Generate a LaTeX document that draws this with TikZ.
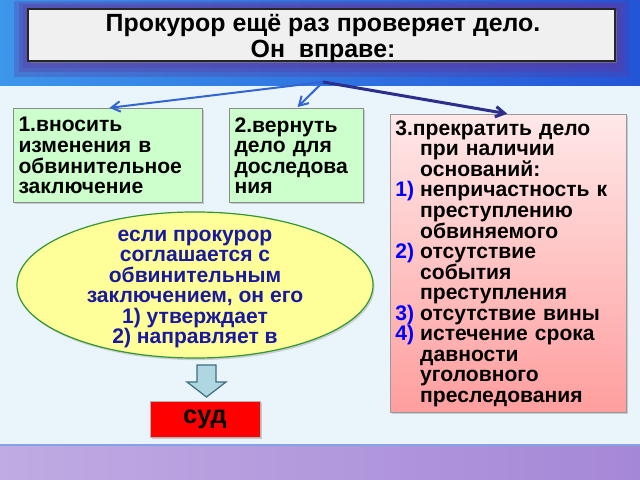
\documentclass[tikz,border=0pt]{standalone}
\usepackage{fontspec}
\setmainfont{Liberation Sans}
\usetikzlibrary{arrows.meta,shapes.geometric,shadows}
\definecolor{bandblue}{RGB}{35,85,215}
\definecolor{bandcyan}{RGB}{60,150,235}
\definecolor{glowviolet}{RGB}{95,55,160}
\definecolor{paleback}{RGB}{234,244,251}
\definecolor{lilac}{RGB}{165,135,215}
\definecolor{boxgreen}{RGB}{204,255,204}
\definecolor{pinktop}{RGB}{255,232,232}
\definecolor{pinkbottom}{RGB}{255,158,158}
\definecolor{ovalyellow}{RGB}{255,255,153}
\definecolor{ovaltext}{RGB}{25,25,160}
\definecolor{arrowblue}{RGB}{50,100,210}
\definecolor{arrownavy}{RGB}{45,45,140}
\definecolor{blockarrow}{RGB}{175,215,225}
\definecolor{blockedge}{RGB}{60,110,130}

\tikzset{
  boxtext/.style={font=\bfseries\fontsize{15}{14.6}\selectfont},
  greenbox/.style={boxtext, draw=black!45, line width=0.3mm, fill=boxgreen,
    anchor=north west, align=left, inner xsep=0.12cm,
    drop shadow={shadow xshift=1.2pt, shadow yshift=-1.2pt, opacity=0.35}},
  forkarrow/.style={line width=0.5mm, color=arrowblue, -{Straight Barb[length=2.2mm,width=2.6mm]}},
}

\begin{document}
\begin{tikzpicture}[x=0.025cm, y=-0.025cm]
		%%%%% START %%%%%
		\useasboundingbox (0, 0) rectangle (640, 480);
		
		% background
		\shade[left color=bandcyan, right color=bandblue] (0, 0) rectangle (640, 86);
		\fill[paleback] (0, 86) rectangle (640, 445);
		\draw[line width=0.4mm, color=arrowblue!60] (0, 445) -- (640, 445);
		\shade[left color=lilac!70, right color=lilac] (0, 446) rectangle (640, 480);
		
		% title
		\fill[glowviolet, opacity=0.3] (14, 1) rectangle (629, 77);
		\fill[glowviolet, opacity=0.3] (19, 3) rectangle (624, 72);
		\fill[glowviolet, opacity=0.3] (23, 5) rectangle (620, 68);
		\node[draw=black!85, line width=0.3mm, fill=black!6, minimum width=14.675cm, minimum height=1.3cm,
			drop shadow={shadow xshift=1.5pt, shadow yshift=-1.5pt, opacity=0.6}]
			(title) at (321.5, 35) {};
		\node[align=center, font=\bfseries\fontsize{17.7}{18.5}\selectfont]
			(titletext) at (323, 38) {Прокурор ещё раз проверяет дело.\\Он~~вправе:};
		
		\coordinate (fork) at (323, 82);
		
		\node[greenbox, minimum width=4.725cm, minimum height=2.35cm, text width=4.48cm]
			(change) at (13, 108) {1.вносить\\изменения в\\обвинительное\\заключение};
		\node[greenbox, minimum width=3.35cm, minimum height=2.35cm, text width=3.1cm]
			(return) at (229, 108) {2.вернуть\\дело для\\доследова\\ния};
		
		\node[boxtext, draw=black!40, line width=0.3mm, top color=pinktop, bottom color=pinkbottom,
			anchor=north west, minimum width=5.9cm, minimum height=7.45cm, text width=5.66cm,
			align=left, inner xsep=0.12cm,
			drop shadow={shadow xshift=1.2pt, shadow yshift=-1.2pt, opacity=0.35}]
			(stop) at (390, 114) {3.прекратить дело\\
			\hspace*{0.62cm}при наличии\\
			\hspace*{0.62cm}оснований:\\
			\makebox[0.62cm][l]{\color{blue}1)}непричастность к\\
			\hspace*{0.62cm}преступлению\\
			\hspace*{0.62cm}обвиняемого\\
			\makebox[0.62cm][l]{\color{blue}2)}отсутствие\\
			\hspace*{0.62cm}события\\
			\hspace*{0.62cm}преступления\\
			\makebox[0.62cm][l]{\color{blue}3)}отсутствие вины\\
			\makebox[0.62cm][l]{\color{blue}4)}истечение срока\\
			\hspace*{0.62cm}давности\\
			\hspace*{0.62cm}уголовного\\
			\hspace*{0.62cm}преследования};
		
		\draw[forkarrow, shorten >=1pt] (fork) -- (change.north);
		\draw[forkarrow, shorten >=1pt] (fork) -- (return.north);
		\draw[forkarrow, line width=0.75mm, color=arrownavy, shorten >=1pt] (fork) -- (stop.north);
		
		\node[ellipse, draw=black!35!green!60!gray, line width=0.3mm, fill=ovalyellow, inner sep=0pt,
			minimum width=8.9cm, minimum height=3.65cm,
			drop shadow={shadow xshift=1pt, shadow yshift=-1.5pt, opacity=0.3}]
			(agree) at (195, 285) {};
		\node[align=center, text=ovaltext, font=\bfseries\fontsize{15}{14.6}\selectfont]
			(agreetext) at (195, 289) {если прокурор\\соглашается с\\обвинительным\\заключением, он его\\1) утверждает\\2) направляет в};
		
		\draw[line width=0.3mm, color=blockedge, fill=blockarrow]
			(197, 365) -- (216, 365) -- (216, 382) -- (226, 382) -- (206.5, 397)
			-- (187, 382) -- (197, 382) -- cycle;
		
		\node[fill=red, draw=black!30, line width=0.2mm, minimum width=2.75cm, minimum height=0.9cm,
			font=\bfseries\fontsize{18}{18}\selectfont,
			drop shadow={shadow xshift=1.2pt, shadow yshift=-1.2pt, opacity=0.35}]
			(court) at (205, 419.5) {суд};
		
		%%%%% END %%%%%
\end{tikzpicture}
\end{document}
